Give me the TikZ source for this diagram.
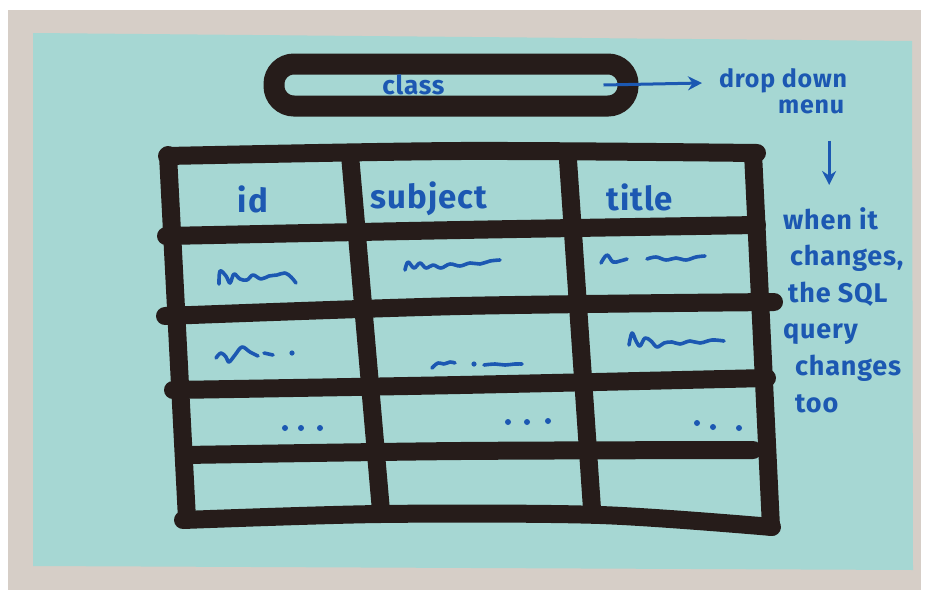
\documentclass[tikz,border=0pt]{standalone}
\usepackage{fontspec}
\setmainfont{Fira Sans}
\newfontfamily\handfont{Fira Sans}[LetterSpace=3]
\usepackage{xcolor}
\usetikzlibrary{arrows.meta, positioning}
\definecolor{wall}{RGB}{214,206,199}
\definecolor{note}{RGB}{166,215,211}
\definecolor{marker}{RGB}{38,28,26}
\definecolor{ink}{RGB}{28,88,178}

\begin{document}
\begin{tikzpicture}[
    x=1pt, y=-1pt,
    hand/.style={text=ink, font=\handfont\bfseries\fontsize{27}{36.6}\selectfont, inner sep=0pt},
    header/.style={text=ink, font=\handfont\bfseries\fontsize{33}{38}\selectfont, inner sep=0pt, anchor=base},
    pill/.style={draw=marker, line width=21pt, rounded corners=20pt, minimum width=354pt, minimum height=42pt, inner sep=0pt, text=ink, font=\handfont\bfseries\fontsize{26}{30}\selectfont},
    gridline/.style={draw=marker, line width=18pt, line cap=round, line join=round},
    scrib/.style={draw=ink, line width=3.6pt, line cap=round, line join=round},
    arrow/.style={-{Stealth[length=14pt, width=14pt]}, draw=ink, line width=3pt}
]
\useasboundingbox (0,0) rectangle (927,590);
% Paper on the wall
\fill[white] (0,0) rectangle (927,590);
\fill[wall] (8,10) rectangle (921,590);
\fill[note] (33,33) -- (912,41) -- (913,570) -- (33,566) -- cycle;
% Dropdown box
\node[pill] (cls) at (451,85) {\hspace*{-75pt}\raisebox{-5pt}{class}};
\node[hand, font=\handfont\bfseries\fontsize{25}{30}\selectfont, anchor=base west] (drop) at (719,87) {drop down};
\node[hand, font=\handfont\bfseries\fontsize{25}{30}\selectfont, anchor=base west] (menu) at (778,113) {menu};
\node[hand, align=left, anchor=north west] (remark) at (783,207) {when it\\\hspace*{7pt}changes,\\\hspace*{5pt}the SQL\\query\\\hspace*{12pt}changes\\\hspace*{12pt}too};
\draw[arrow] ([xshift=-35pt]cls.east) -- ([xshift=-17pt, yshift=4pt]drop.base west);
\draw[arrow, shorten <=27pt, shorten >=22pt] ([xshift=18pt]menu.south) -- ([xshift=18pt]menu.south |- remark.north);
% Table grid
\draw[gridline] plot[smooth] coordinates {(167,156) (460,151) (757,153)};
\draw[gridline] plot[smooth] coordinates {(166,236) (460,230) (757,225)};
\draw[gridline] plot[smooth] coordinates {(165,316) (460,306) (774,302)};
\draw[gridline] plot[smooth] coordinates {(173,390) (460,385) (767,378)};
\draw[gridline] plot[smooth] coordinates {(185,455) (460,451) (753,450)};
\draw[gridline] plot[smooth] coordinates {(183,520) (380,514) (600,515) (772,527)};
\draw[gridline] (168,155) -- (187,519);
\draw[gridline] (350,155) -- (381,511);
\draw[gridline] (568,160) -- (592,509);
\draw[gridline] (753,153) -- (771,527);
% Column headers
\node[header] (hid) at (253,212) {id};
\node[header] (hsubject) at (429,208) {subject};
\node[header] (htitle) at (640,210) {title};
% Row 1
\draw[scrib] plot[smooth, tension=0.6] coordinates {(219,284) (220,271) (226,276) (230,283) (234,274) (240,279) (247,280) (253,275) (261,279) (269,276) (277,275) (285,273) (291,277) (296,283)};
\draw[scrib] plot[smooth, tension=0.6] coordinates {(405,270) (408,262) (414,268) (420,263) (426,268) (433,265) (441,268) (450,264) (460,266) (470,263) (480,264) (490,261) (500,260)};
\draw[scrib] plot[smooth, tension=0.6] coordinates {(601,263) (607,255) (613,262) (620,261) (627,259)};
\draw[scrib] plot[smooth, tension=0.6] coordinates {(647,259) (656,257) (666,260) (676,258) (686,260) (696,257) (705,256)};
% Row 2
\draw[scrib] plot[smooth, tension=0.6] coordinates {(216,358) (221,353) (226,357) (229,362) (235,355) (242,347) (250,352) (258,356)};
\draw[scrib] (264,353) -- (273,355);
\draw[scrib] plot[smooth, tension=0.6] coordinates {(432,368) (438,363) (444,364) (450,362) (455,363)};
\draw[scrib] plot[smooth, tension=0.6] coordinates {(484,365) (495,364) (505,365) (515,364) (522,364)};
\draw[scrib] plot[smooth, tension=0.6] coordinates {(629,345) (632,333) (636,341) (640,346) (645,338) (651,341) (657,347) (664,343) (672,342) (680,344) (690,341) (700,343) (712,340) (724,341)};
\foreach \p in {(292,353), (474,364)}
    \fill[ink] \p circle (2.6pt);
% Row 3 dots
\foreach \p in {(285,428), (301,428), (320,428), (508,422), (527,422), (548,421), (697,423), (713,427), (739,428)}
    \fill[ink] \p circle (3pt);
\end{tikzpicture}
\end{document}
